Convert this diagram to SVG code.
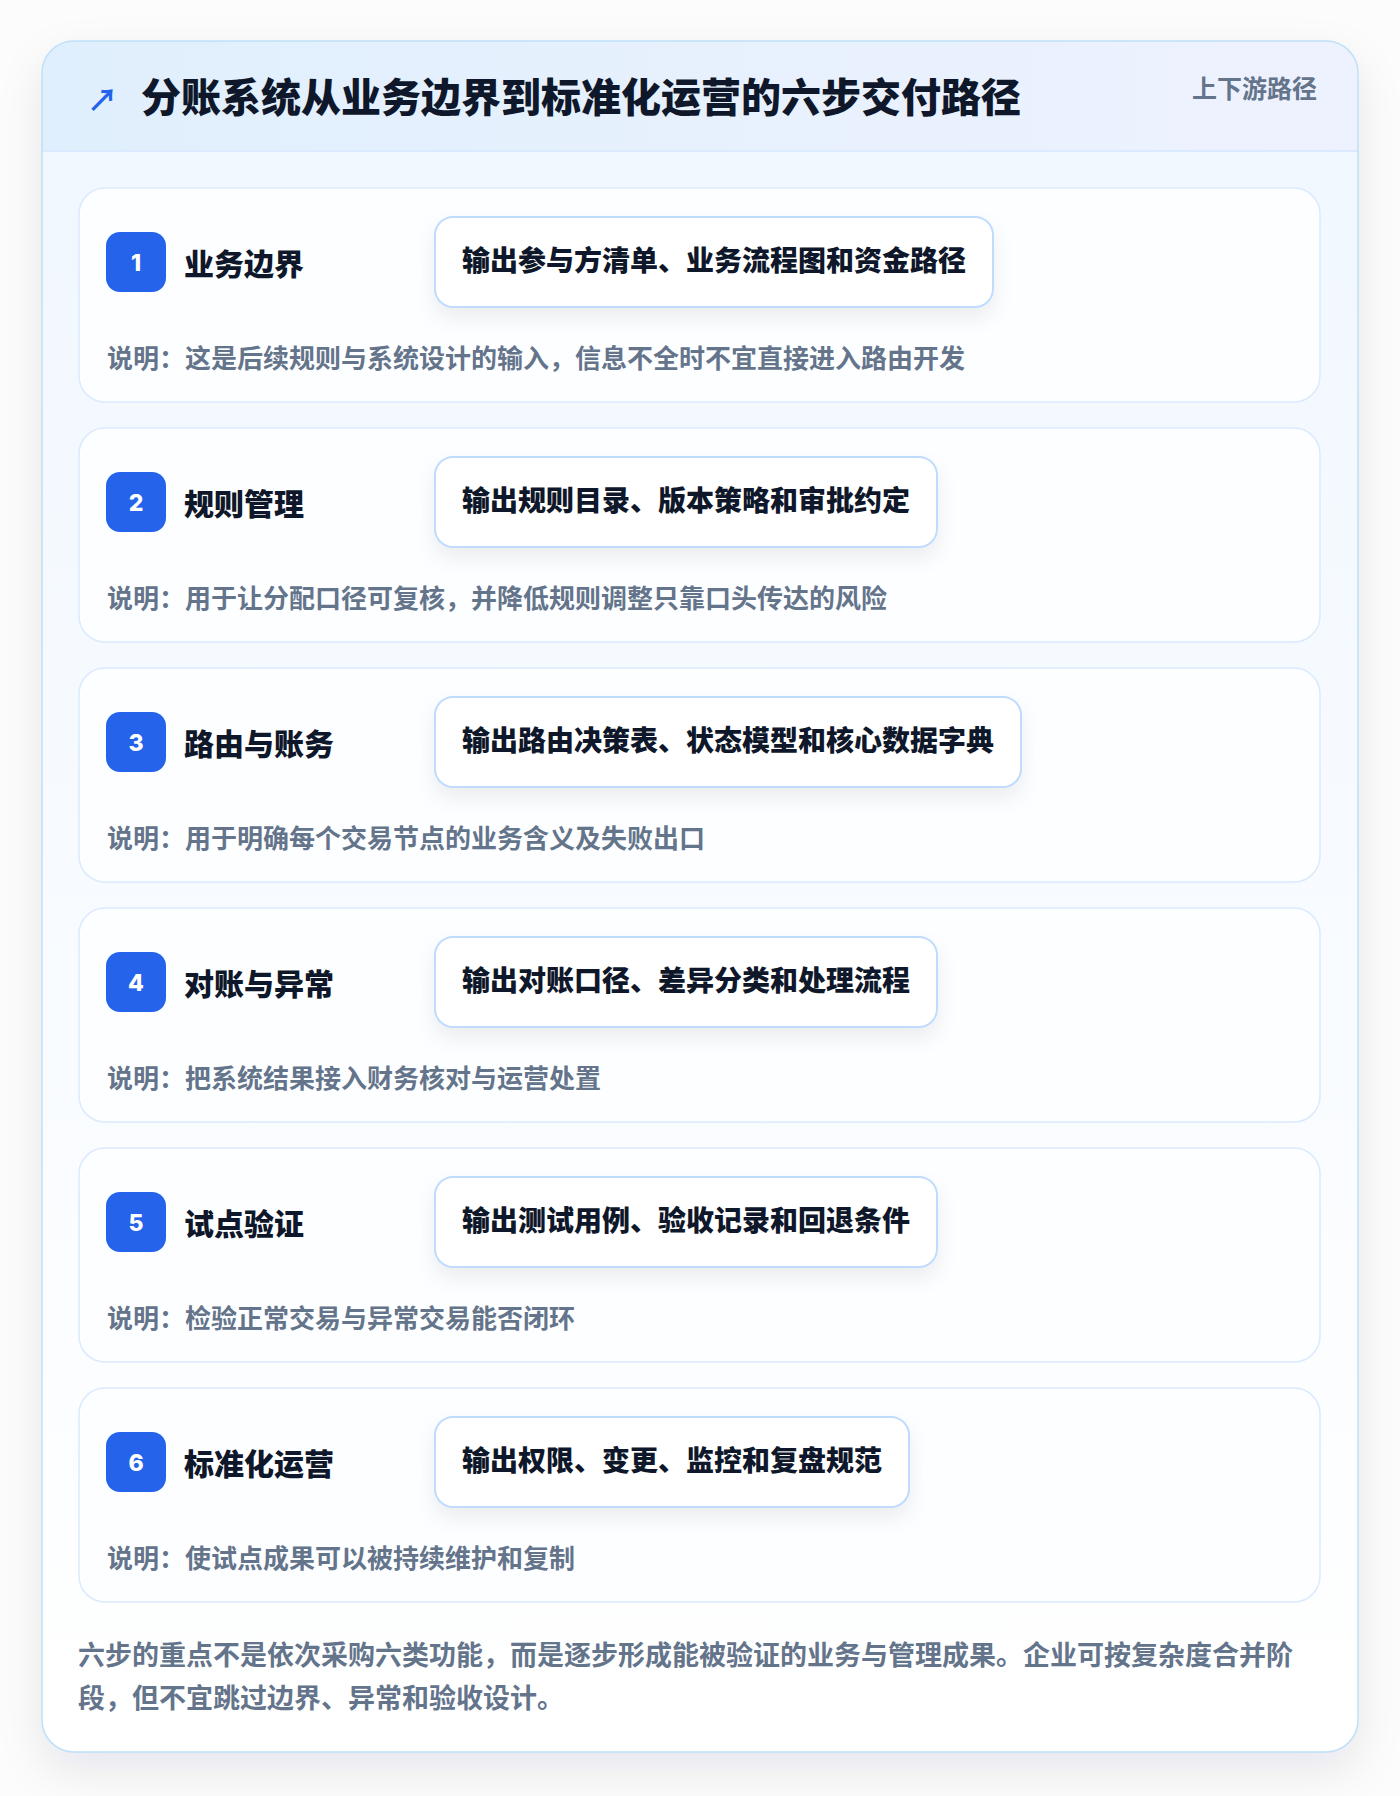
<svg xmlns="http://www.w3.org/2000/svg" width="1400" height="1796" viewBox="0 0 1400 1796">
<defs>
<style>
.t{font-family:"Noto Sans CJK SC","Noto Sans",sans-serif;font-weight:700}
.h{font-weight:900}
.title{font-size:40px;fill:#0f172a}
.tag{font-size:25px;fill:#64748b}
.stitle{font-size:30px;fill:#0f172a}
.out{font-size:28px;fill:#0f172a}
.desc{font-size:26px;fill:#64748b}
.foot{font-size:27px;fill:#64748b}
.num{font-family:Inter,"Noto Sans",sans-serif;font-weight:800;font-size:23px;fill:#ffffff}
.card{fill:#fdfeff;stroke:#dbeafe;stroke-width:1.5}
.badge{fill:#2563eb}
.obox{fill:#ffffff;stroke:#bfdbfe;stroke-width:2}
</style>
<linearGradient id="hdr" x1="0" y1="0" x2="1" y2="0">
<stop offset="0" stop-color="#e0effd"/>
<stop offset="1" stop-color="#eef2fe"/>
</linearGradient>
<linearGradient id="body" x1="0" y1="0" x2="0" y2="1">
<stop offset="0" stop-color="#f0f7ff"/>
<stop offset="1" stop-color="#ffffff"/>
</linearGradient>
<filter id="sh" x="-10%" y="-10%" width="120%" height="120%">
<feDropShadow dx="0" dy="18" stdDeviation="22" flood-color="#0f172a" flood-opacity="0.09"/>
</filter>
<filter id="bsh" x="-10%" y="-30%" width="120%" height="180%">
<feDropShadow dx="0" dy="10" stdDeviation="10" flood-color="#0f172a" flood-opacity="0.07"/>
</filter>
<clipPath id="cardclip"><rect x="42" y="41" width="1316" height="1711" rx="32"/></clipPath>
</defs>
<rect width="1400" height="1796" fill="#fcfcfd"/>
<g id="panel">
<rect x="42" y="41" width="1316" height="1711" rx="32" fill="url(#body)" filter="url(#sh)"/>
<g clip-path="url(#cardclip)">
<rect x="42" y="41" width="1316" height="110" fill="url(#hdr)"/>
<line x1="42" y1="151" x2="1358" y2="151" stroke="#dbeafe" stroke-width="2"/>
</g>
<rect x="42" y="41" width="1316" height="1711" rx="32" fill="none" stroke="#bfe0f7" stroke-width="1.5"/>
<text class="t" x="87" y="111" font-size="31" fill="#2563eb" font-family="DejaVu Sans,sans-serif">↗</text>
<text class="t h title" x="141" y="112">分账系统从业务边界到标准化运营的六步交付路径</text>
<text class="t tag" x="1317" y="98" text-anchor="end">上下游路径</text>
</g>
<g id="step1" transform="translate(0,188)">
<rect class="card" x="79" y="0" width="1241" height="214" rx="26"/>
<rect class="badge" x="106" y="44" width="60" height="60" rx="14"/>
<text class="num" x="136" y="82.5" text-anchor="middle">1</text>
<text class="t h stitle" x="184" y="87">业务边界</text>
<rect class="obox" x="435" y="29" width="558" height="90" rx="18" filter="url(#bsh)"/>
<text class="t h out" x="462" y="83">输出参与方清单、业务流程图和资金路径</text>
<text class="t desc" x="107" y="180">说明：这是后续规则与系统设计的输入，信息不全时不宜直接进入路由开发</text>
</g>
<g id="step2" transform="translate(0,428)">
<rect class="card" x="79" y="0" width="1241" height="214" rx="26"/>
<rect class="badge" x="106" y="44" width="60" height="60" rx="14"/>
<text class="num" x="136" y="82.5" text-anchor="middle">2</text>
<text class="t h stitle" x="184" y="87">规则管理</text>
<rect class="obox" x="435" y="29" width="502" height="90" rx="18" filter="url(#bsh)"/>
<text class="t h out" x="462" y="83">输出规则目录、版本策略和审批约定</text>
<text class="t desc" x="107" y="180">说明：用于让分配口径可复核，并降低规则调整只靠口头传达的风险</text>
</g>
<g id="step3" transform="translate(0,668)">
<rect class="card" x="79" y="0" width="1241" height="214" rx="26"/>
<rect class="badge" x="106" y="44" width="60" height="60" rx="14"/>
<text class="num" x="136" y="82.5" text-anchor="middle">3</text>
<text class="t h stitle" x="184" y="87">路由与账务</text>
<rect class="obox" x="435" y="29" width="586" height="90" rx="18" filter="url(#bsh)"/>
<text class="t h out" x="462" y="83">输出路由决策表、状态模型和核心数据字典</text>
<text class="t desc" x="107" y="180">说明：用于明确每个交易节点的业务含义及失败出口</text>
</g>
<g id="step4" transform="translate(0,908)">
<rect class="card" x="79" y="0" width="1241" height="214" rx="26"/>
<rect class="badge" x="106" y="44" width="60" height="60" rx="14"/>
<text class="num" x="136" y="82.5" text-anchor="middle">4</text>
<text class="t h stitle" x="184" y="87">对账与异常</text>
<rect class="obox" x="435" y="29" width="502" height="90" rx="18" filter="url(#bsh)"/>
<text class="t h out" x="462" y="83">输出对账口径、差异分类和处理流程</text>
<text class="t desc" x="107" y="180">说明：把系统结果接入财务核对与运营处置</text>
</g>
<g id="step5" transform="translate(0,1148)">
<rect class="card" x="79" y="0" width="1241" height="214" rx="26"/>
<rect class="badge" x="106" y="44" width="60" height="60" rx="14"/>
<text class="num" x="136" y="82.5" text-anchor="middle">5</text>
<text class="t h stitle" x="184" y="87">试点验证</text>
<rect class="obox" x="435" y="29" width="502" height="90" rx="18" filter="url(#bsh)"/>
<text class="t h out" x="462" y="83">输出测试用例、验收记录和回退条件</text>
<text class="t desc" x="107" y="180">说明：检验正常交易与异常交易能否闭环</text>
</g>
<g id="step6" transform="translate(0,1388)">
<rect class="card" x="79" y="0" width="1241" height="214" rx="26"/>
<rect class="badge" x="106" y="44" width="60" height="60" rx="14"/>
<text class="num" x="136" y="82.5" text-anchor="middle">6</text>
<text class="t h stitle" x="184" y="87">标准化运营</text>
<rect class="obox" x="435" y="29" width="474" height="90" rx="18" filter="url(#bsh)"/>
<text class="t h out" x="462" y="83">输出权限、变更、监控和复盘规范</text>
<text class="t desc" x="107" y="180">说明：使试点成果可以被持续维护和复制</text>
</g>
<g id="connectors"></g>
<g id="footer">
<text class="t foot" x="78" y="1665">六步的重点不是依次采购六类功能，而是逐步形成能被验证的业务与管理成果。企业可按复杂度合并阶</text>
<text class="t foot" x="78" y="1708">段，但不宜跳过边界、异常和验收设计。</text>
</g>
</svg>
